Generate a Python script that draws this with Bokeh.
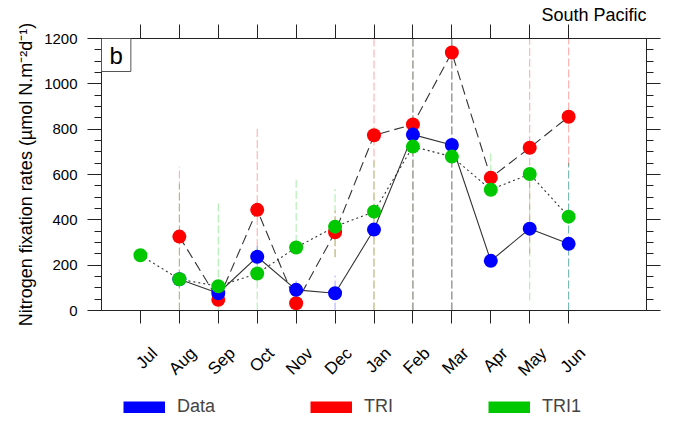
import math
from bokeh.plotting import figure
from bokeh.layouts import column
from bokeh.models import (Range1d, FixedTicker, LinearAxis, Label, Legend, LegendItem,
                          ColumnDataSource)
from bokeh.embed import file_html
from bokeh.resources import INLINE

nan = float("nan")

months = ["Jul", "Aug", "Sep", "Oct", "Nov", "Dec", "Jan", "Feb", "Mar", "Apr", "May", "Jun"]
month_pos = list(range(1, 13))

data_vals = [nan, 138, 76, 237, 91, 76, 357, 776, 730, 219, 361, 294]
tri_vals = [nan, 326, 47, 444, 32, 345, 773, 821, 1138, 586, 718, 855]
tri1_vals = [244, 138, 107, 163, 278, 370, 436, 723, 679, 533, 602, 414]

data_lo = [nan, nan, nan, 200, 50, 0, nan, 0, 0, nan, nan, 0]
data_hi = [nan, nan, nan, 285, 132, 154, nan, 1300, 1300, nan, nan, 650]
tri_lo = [nan, 0, nan, 280, nan, 235, 0, 0, 0, nan, 250, 640]
tri_hi = [nan, 634, nan, 805, nan, 441, 1300, 1300, 1300, nan, 1300, 1300]
tri1_lo = [nan, 0, 0, 0, 250, 235, 0, 0, 0, 560, 44, 0]
tri1_hi = [nan, 558, 473, 290, 588, 536, 660, 1300, 1300, 705, 632, 650]

series_names = ["Data", "TRI", "TRI1"]

y_ticks = [0, 200, 400, 600, 800, 1000, 1200]
y_minor = [v for v in range(0, 1201, 50) if v % 200 != 0]

FONT = "Liberation Sans"
BLUE = "#0000ff"
RED = "#ff0000"
GREEN = "#00c800"
LINE = "#333333"
AX = "#222222"

p = figure(width=674, height=390, output_backend="svg", toolbar_location=None,
           x_range=Range1d(0, 14), y_range=Range1d(0, 1200),
           min_border_left=101, min_border_right=28, min_border_top=38, min_border_bottom=80)
p.grid.visible = False
p.outline_line_color = AX
p.background_fill_color = "white"
p.border_fill_color = "white"

p.title.text = "South Pacific"
p.title.align = "right"
p.title.text_font = FONT
p.title.text_font_size = "18px"
p.title.text_font_style = "normal"
p.title.text_color = "black"
p.title.standoff = 0
p.title.offset = 0

# axes
xt = FixedTicker(ticks=month_pos, minor_ticks=[])
label_shift = 0.36
xt_lab = FixedTicker(ticks=[m + label_shift for m in month_pos], minor_ticks=[])
yt = FixedTicker(ticks=y_ticks, minor_ticks=y_minor)

xa = p.xaxis[0]
xa.ticker = xt
xa.major_tick_out = 13
xa.major_tick_in = 0
xa.minor_tick_out = 0
xa.minor_tick_in = 0
xa.major_label_standoff = 0
xa.major_label_text_font_size = "0px"
xa.axis_line_color = AX
xa.major_tick_line_color = AX

xlab = LinearAxis(ticker=xt_lab,
                  major_label_overrides={m + label_shift: name for m, name in zip(month_pos, months)},
                  major_label_orientation=math.pi / 4,
                  major_tick_out=0, major_tick_in=0, minor_tick_out=0, minor_tick_in=0,
                  axis_line_color=None, major_tick_line_color=None, minor_tick_line_color=None,
                  major_label_standoff=27, major_label_text_font=FONT,
                  major_label_text_font_size="17px", major_label_text_color="black")
p.add_layout(xlab, "below")

ya = p.yaxis[0]
ya.ticker = yt
ya.major_tick_out = 14
ya.major_tick_in = 0
ya.minor_tick_out = 7
ya.minor_tick_in = 0
ya.major_label_standoff = 10
ya.major_label_text_font = FONT
ya.major_label_text_font_size = "15px"
ya.major_label_text_color = "black"
ya.axis_label = "Nitrogen fixation rates (\u00b5mol N.m\u207b\u00b2d\u207b\u00b9)"
ya.axis_label_text_font = FONT
ya.axis_label_text_font_size = "18px"
ya.axis_label_text_font_style = "normal"
ya.axis_label_text_color = "black"
ya.axis_label_standoff = 5
ya.axis_line_color = AX
ya.major_tick_line_color = AX
ya.minor_tick_line_color = AX

top_ax = LinearAxis(ticker=xt, major_tick_out=14, major_tick_in=0, minor_tick_out=0, minor_tick_in=0,
                    major_label_text_font_size="0px", major_label_standoff=0,
                    axis_line_color=AX, major_tick_line_color=AX)
p.add_layout(top_ax, "above")
right_ax = LinearAxis(ticker=yt, major_tick_out=14, major_tick_in=0, minor_tick_out=7, minor_tick_in=0,
                      major_label_text_font_size="0px", major_label_standoff=0,
                      axis_line_color=AX, major_tick_line_color=AX,
                      minor_tick_line_color=AX)
p.add_layout(right_ax, "right")

# error bars
for lo, hi, col in [(data_lo, data_hi, BLUE), (tri_lo, tri_hi, RED), (tri1_lo, tri1_hi, GREEN)]:
    src = ColumnDataSource(dict(x=month_pos, lo=lo, hi=hi))
    p.segment(x0="x", y0="lo", x1="x", y1="hi", source=src, line_color=col,
              line_alpha=0.35, line_width=1, line_dash="8 3")

# lines
p.line(month_pos, data_vals, line_color=LINE, line_width=1.1)
p.line(month_pos, tri_vals, line_color=LINE, line_width=1.1, line_dash="10 5")
p.line(month_pos, tri1_vals, line_color=LINE, line_width=1.1, line_dash="2 3")

# markers
p.scatter(month_pos, tri_vals, size=14, fill_color=RED, line_color=None)
p.scatter(month_pos, data_vals, size=14, fill_color=BLUE, line_color=None)
p.scatter(month_pos, tri1_vals, size=14, fill_color=GREEN, line_color=None)

# panel letter
p.add_layout(Label(x=0, y=1200, text="b", text_align="left", text_baseline="top",
                   text_font=FONT, text_font_size="24px", text_color="black",
                   border_line_color="#555555", border_line_width=1,
                   background_fill_color="white",
                   padding=dict(left=8, right=8, top=3, bottom=3)))

# legend strip below the chart (its frame is aligned with the chart frame)
lf = figure(width=674, height=39, output_backend="svg", toolbar_location=None,
            x_range=Range1d(0, 1), y_range=Range1d(0, 1), min_border=0)
lf.axis.visible = False
lf.grid.visible = False
lf.outline_line_color = None
lf.background_fill_color = "white"
lf.border_fill_color = "white"
# swatch renderers: thick lines whose values lie far outside this strip's range
swatches = []
for vals, col in [(data_vals, BLUE), (tri_vals, RED), (tri1_vals, GREEN)]:
    swatches.append(lf.line(month_pos, vals, line_color=col, line_width=12))
legend = Legend(items=[LegendItem(label=n, renderers=[r]) for n, r in zip(series_names, swatches)],
                orientation="horizontal", location=(22, 12),
                spacing=95, glyph_width=42, glyph_height=12, label_standoff=12,
                label_text_font=FONT, label_text_font_size="18px",
                border_line_color=None, background_fill_alpha=0,
                padding=0, margin=0)
lf.add_layout(legend, "center")

layout = column(p, lf, spacing=0)
open("out.html", "w").write(file_html(layout, INLINE))
